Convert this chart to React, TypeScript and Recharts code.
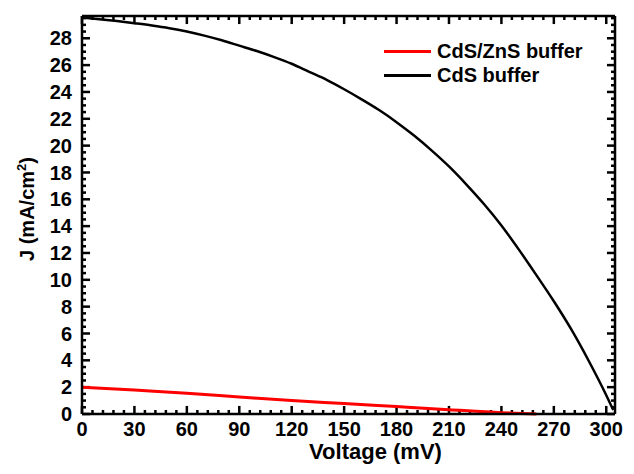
import React from 'react';
import { LineChart, Line, XAxis, YAxis, Label, ReferenceLine } from 'recharts';

// CdS buffer cell (black)
const cdsVoltage = [0, 10, 20, 30, 40, 50, 60, 70, 80, 90, 100, 110, 120, 130, 140, 150, 160, 170, 180, 190, 200, 210, 220, 230, 240, 250, 260, 270, 280, 290, 300, 304];
const cdsCurrent = [29.55, 29.42, 29.28, 29.12, 28.95, 28.75, 28.5, 28.2, 27.85, 27.45, 27.05, 26.6, 26.1, 25.5, 24.9, 24.2, 23.45, 22.65, 21.75, 20.75, 19.65, 18.45, 17.1, 15.65, 14.05, 12.25, 10.35, 8.4, 6.3, 3.95, 1.4, 0.3];

// CdS/ZnS buffer cell (red)
const znsVoltage = [0, 30, 60, 90, 120, 150, 180, 210, 240, 260];
const znsCurrent = [2.0, 1.78, 1.55, 1.27, 1.0, 0.78, 0.55, 0.32, 0.1, 0.0];

const xMajor = [0, 30, 60, 90, 120, 150, 180, 210, 240, 270, 300];
const yMajor = [0, 2, 4, 6, 8, 10, 12, 14, 16, 18, 20, 22, 24, 26, 28];

const X_MAX = 305;
const Y_MAX = 29.66;

// minor ticks every 6 mV and every 0.5 mA/cm2
const xTicks = Array.from({ length: 51 }, (_, i) => i * 6);
const yTicks = Array.from({ length: 60 }, (_, i) => i * 0.5);

const cdsData = cdsVoltage.map((v, i) => ({ v, j: cdsCurrent[i] }));
const znsData = znsVoltage.map((v, i) => ({ v, j: znsCurrent[i] }));

const FONT = '"Liberation Sans", Arial, sans-serif';
const tickFont = { fontFamily: FONT, fontWeight: 'bold', fontSize: 20, fill: '#000' };
const axisLine = { stroke: '#000', strokeWidth: 2.5 };

// inward tick lengths in data units (about 8px major / 4px minor)
const xTickLen = (v: number) => (xMajor.includes(v) ? 0.6 : 0.3);
const yTickLen = (v: number) => (yMajor.includes(v) ? 4.6 : 2.3);

const legendItems = [
  { name: 'CdS/ZnS buffer', color: '#ff0000' },
  { name: 'CdS buffer', color: '#000000' },
];

export default function App() {
  return (
    <div style={{ position: 'absolute', left: 0, top: 0, width: 634, height: 474, background: '#fff' }}>
      <LineChart width={634} height={474} margin={{ top: 15, right: 18, bottom: 0, left: 0 }}>
        <XAxis
          dataKey="v"
          type="number"
          domain={[0, X_MAX]}
          ticks={xMajor}
          interval={0}
          tickSize={0}
          tickMargin={8}
          tickLine={false}
          tick={tickFont}
          axisLine={axisLine}
          height={60}
        >
          <Label
            content={(p: any) => {
              const vb = p.viewBox;
              return (
                <text x={vb.x + vb.width / 2 + 27} y={459} textAnchor="middle" fontFamily={FONT} fontWeight="bold" fontSize={22} fill="#000">
                  Voltage (mV)
                </text>
              );
            }}
          />
        </XAxis>
        <XAxis
          xAxisId="top"
          orientation="top"
          type="number"
          domain={[0, X_MAX]}
          tick={false}
          tickLine={false}
          axisLine={axisLine}
          height={1}
        />
        <YAxis
          type="number"
          domain={[0, Y_MAX]}
          ticks={yMajor}
          interval={0}
          tickSize={0}
          tickMargin={10}
          tickLine={false}
          tick={tickFont}
          axisLine={axisLine}
          width={82}
        >
          <Label
            content={() => (
              <text x={34} y={209} transform="rotate(-90 34 209)" textAnchor="middle" fontFamily={FONT} fontWeight="bold" fontSize={20} fill="#000">
                J (mA/cm<tspan fontSize={13} dy={-8}>2</tspan>
                <tspan dy={8}>)</tspan>
              </text>
            )}
          />
        </YAxis>
        <YAxis
          yAxisId="right"
          orientation="right"
          type="number"
          domain={[0, Y_MAX]}
          tick={false}
          tickLine={false}
          axisLine={axisLine}
          width={1}
        />

        {xTicks.map((v) => (
          <ReferenceLine
            key={`xb-${v}`}
            segment={[{ x: v, y: 0 }, { x: v, y: xTickLen(v) }]}
            stroke="#000"
            strokeWidth={2.5}
          />
        ))}
        {xTicks.map((v) => (
          <ReferenceLine
            key={`xt-${v}`}
            segment={[{ x: v, y: Y_MAX - xTickLen(v) }, { x: v, y: Y_MAX }]}
            stroke="#000"
            strokeWidth={2.5}
          />
        ))}
        {yTicks.map((v) => (
          <ReferenceLine
            key={`yl-${v}`}
            segment={[{ x: 0, y: v }, { x: yTickLen(v), y: v }]}
            stroke="#000"
            strokeWidth={2.5}
          />
        ))}
        {yTicks.map((v) => (
          <ReferenceLine
            key={`yr-${v}`}
            segment={[{ x: X_MAX - yTickLen(v), y: v }, { x: X_MAX, y: v }]}
            stroke="#000"
            strokeWidth={2.5}
          />
        ))}

        <Line
          data={cdsData}
          dataKey="j"
          name="CdS buffer"
          type="monotone"
          stroke="#000"
          strokeWidth={2.5}
          dot={false}
          isAnimationActive={false}
        />
        <Line
          data={znsData}
          dataKey="j"
          name="CdS/ZnS buffer"
          type="monotone"
          stroke="#ff0000"
          strokeWidth={3}
          dot={false}
          isAnimationActive={false}
        />
      </LineChart>
      <div style={{ position: 'absolute', left: 384, top: 39, fontFamily: FONT, fontWeight: 'bold', fontSize: 20, color: '#000' }}>
        {legendItems.map((item) => (
          <div key={item.name} style={{ display: 'flex', alignItems: 'center', height: 24 }}>
            <span style={{ display: 'inline-block', width: 47, height: 3, background: item.color, marginRight: 6 }} />
            <span>{item.name}</span>
          </div>
        ))}
      </div>
    </div>
  );
}
